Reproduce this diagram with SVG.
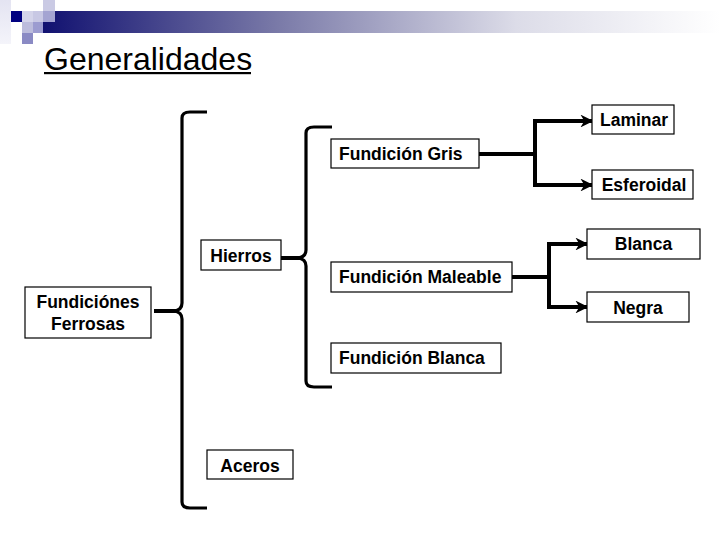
<svg xmlns="http://www.w3.org/2000/svg" width="720" height="540" viewBox="0 0 720 540">
<defs>
<linearGradient id="bar" x1="0" y1="0" x2="1" y2="0">
<stop offset="0" stop-color="#101070"/>
<stop offset="0.35" stop-color="#7a7aa8"/>
<stop offset="0.7" stop-color="#dcdce8"/>
<stop offset="1" stop-color="#ffffff"/>
</linearGradient>
<linearGradient id="side" x1="0" y1="0" x2="0" y2="1">
<stop offset="0" stop-color="#e4e4f2"/>
<stop offset="1" stop-color="#f4f4fa"/>
</linearGradient>
<marker id="arr" viewBox="0 0 10 10" refX="9" refY="5" markerWidth="3.2" markerHeight="3.2" orient="auto" markerUnits="strokeWidth">
<path d="M0,0 L10,5 L0,10 L3,5 Z" fill="#000"/>
</marker>
<style>
.box{fill:#fff;stroke:#000;stroke-width:1.2}
.t{font-family:"Liberation Sans",Arial,sans-serif;font-weight:bold;font-size:17.5px;fill:#000}
.c{fill:none;stroke:#000;stroke-width:4}
.br{fill:none;stroke:#000;stroke-width:3.2}
</style>
</defs>
<g id="header">
<rect x="0" y="0" width="11" height="44" fill="url(#side)"/>
<rect x="40" y="11" width="680" height="22" fill="url(#bar)"/>
<rect x="11" y="11" width="11" height="11" fill="#000080"/>
<rect x="22" y="11" width="11" height="11" fill="#d4d4ea"/>
<rect x="33" y="11" width="11" height="11" fill="#c8c8e4"/>
<rect x="43" y="0" width="12" height="11" fill="#cacae4"/>
<rect x="43" y="11" width="12" height="11" fill="#a4a4d2"/>
<rect x="22" y="22" width="11" height="11" fill="#bcbcdc"/>
<rect x="33" y="22" width="10" height="11" fill="#9c9cd0"/>
<rect x="22" y="33" width="11" height="11" fill="#8a8ac4"/>
</g>
<g id="title">
<text x="44" y="70" font-family="'Liberation Sans',Arial,sans-serif" font-size="32" fill="#000">Generalidades</text>
<rect x="44" y="72" width="207" height="2.2" fill="#000"/>
</g>
<g id="connectors">
<path class="br" d="M207,112 L190,112 Q182,112 182,118 L182,303 Q182,310 174,311 Q182,312 182,319 L182,502 Q182,508 190,508 L207,508"/>
<line class="c" x1="154" y1="311" x2="176" y2="311"/>
<path class="br" d="M332,127 L314,127 Q306,127 306,133 L306,250 Q306,257 298,258 Q306,259 306,266 L306,381 Q306,387 314,387 L332,387"/>
<line class="c" x1="281" y1="258" x2="300" y2="258"/>
<polyline class="c" points="479,154 535,154"/>
<polyline class="c" points="535,154 535,121 592,121" marker-end="url(#arr)"/>
<polyline class="c" points="535,154 535,185 592,185" marker-end="url(#arr)"/>
<polyline class="c" points="512,277 549,277"/>
<polyline class="c" points="549,277 549,244 587,244" marker-end="url(#arr)"/>
<polyline class="c" points="549,277 549,307 587,307" marker-end="url(#arr)"/>
</g>
<g id="laminar"><rect class="box" x="592" y="105" width="82" height="29"/><text class="t" x="634" y="126" text-anchor="middle">Laminar</text></g>
<g id="fundicion-gris"><rect class="box" x="331" y="139" width="148" height="29"/><text class="t" x="339" y="160">Fundición Gris</text></g>
<g id="esferoidal"><rect class="box" x="592" y="170" width="101" height="29"/><text class="t" x="644" y="191" text-anchor="middle">Esferoidal</text></g>
<g id="hierros"><rect class="box" x="201" y="240" width="80" height="30"/><text class="t" x="241" y="262" text-anchor="middle">Hierros</text></g>
<g id="blanca"><rect class="box" x="587" y="229" width="113" height="30"/><text class="t" x="643.5" y="250" text-anchor="middle">Blanca</text></g>
<g id="fundicion-maleable"><rect class="box" x="331" y="262" width="181" height="30"/><text class="t" x="339" y="283">Fundición Maleable</text></g>
<g id="negra"><rect class="box" x="587" y="292" width="102" height="30"/><text class="t" x="638" y="314" text-anchor="middle">Negra</text></g>
<g id="fundicion-blanca"><rect class="box" x="331" y="343" width="170" height="30"/><text class="t" x="339" y="364">Fundición Blanca</text></g>
<g id="fundiciones-ferrosas"><rect class="box" x="25" y="287" width="126" height="51"/><text class="t" x="88" y="308" text-anchor="middle">Fundiciónes</text><text class="t" x="88" y="330" text-anchor="middle">Ferrosas</text></g>
<g id="aceros"><rect class="box" x="207" y="450" width="86" height="29"/><text class="t" x="250" y="472" text-anchor="middle">Aceros</text></g>
</svg>
